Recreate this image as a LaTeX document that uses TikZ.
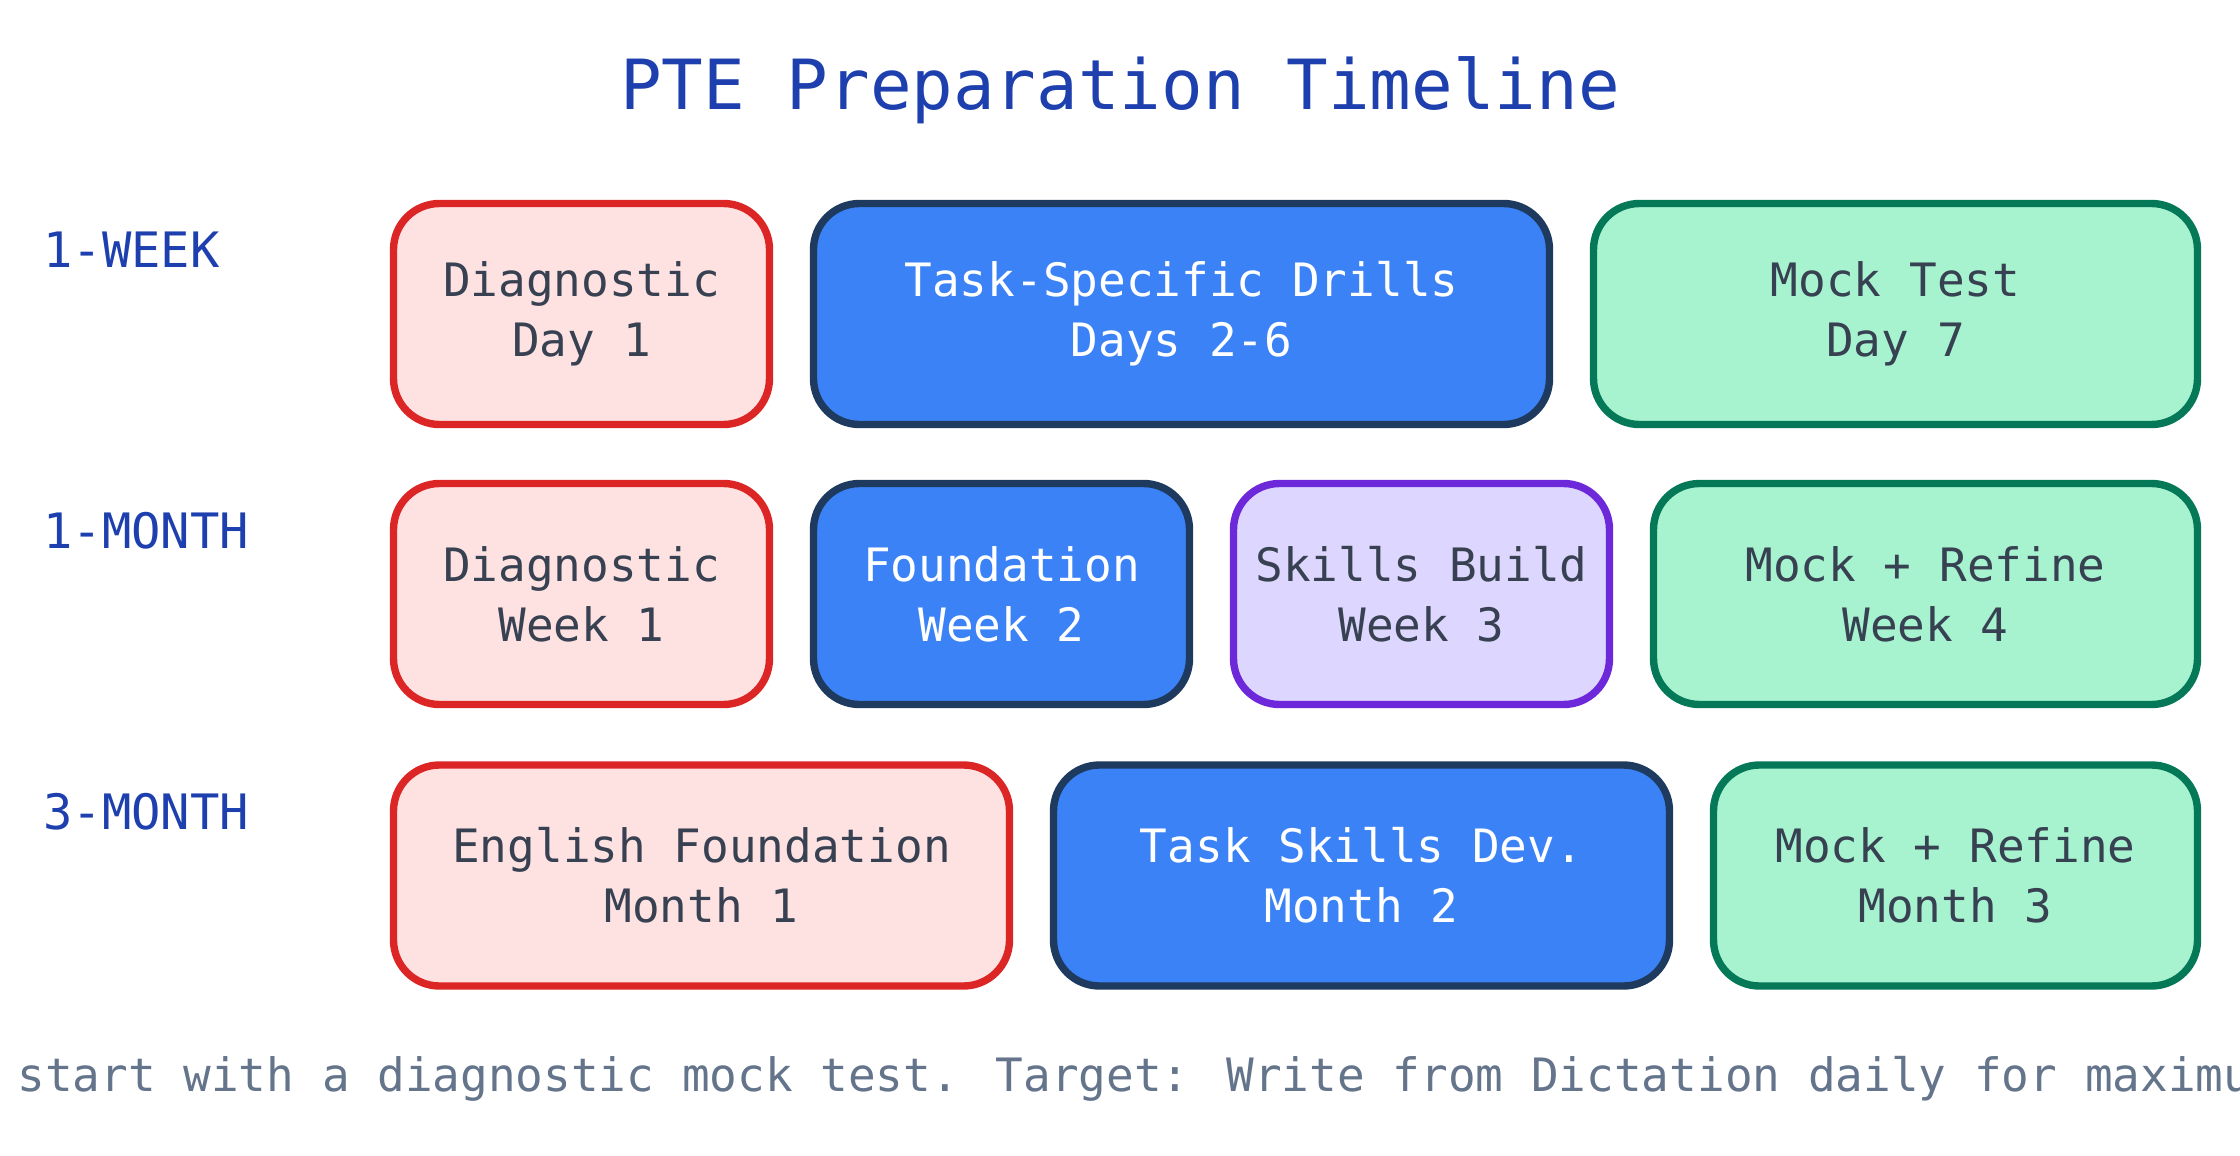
\documentclass[tikz,border=0pt]{standalone}
\usepackage{xcolor}
\usepackage{fontspec}
\setmainfont{DejaVu Sans Mono}
\usepackage{tikz}
\definecolor{titleblue}{HTML}{1E40AF}
\definecolor{inktext}{HTML}{374151}
\definecolor{notegray}{HTML}{64748B}
\definecolor{redline}{HTML}{DC2626}
\definecolor{redfill}{HTML}{FEE2E2}
\definecolor{blueline}{HTML}{1E3A5F}
\definecolor{bluefill}{HTML}{3B82F6}
\definecolor{purpleline}{HTML}{6D28D9}
\definecolor{purplefill}{HTML}{DDD6FE}
\definecolor{greenline}{HTML}{047857}
\definecolor{greenfill}{HTML}{A7F3D0}
\tikzstyle {phase box} = [rectangle, rounded corners=23pt, line width=3.7pt, minimum height=110.5pt, align=center, text=inktext, font=\fontsize{23}{30}\selectfont]
\tikzset{diag/.style = {phase box, draw=redline, fill=redfill},
    drill/.style = {phase box, draw=blueline, fill=bluefill, text=white},
    build/.style = {phase box, draw=purpleline, fill=purplefill},
    mock/.style = {phase box, draw=greenline, fill=greenfill},
    row label/.style = {anchor=base west, inner sep=0, text=titleblue, font=\fontsize{24.4}{28}\selectfont}}

\begin{document}
\begin{tikzpicture}[x=0.5pt, y=-0.5pt]
    \useasboundingbox (0,0) rectangle (2240,1156);
    \node[anchor=base, inner sep=0, text=titleblue, font=\fontsize{34.6}{40}\selectfont] (title) at (1120,110) {PTE Preparation Timeline};
    % 1-week plan
    \node[row label] (l1) at (43,267) {1-WEEK};
    \node[diag, minimum width=188pt] (w1) at (581.5,314) {Diagnostic\\Day 1};
    \node[drill, minimum width=368pt] (w2) at (1181.5,314) {Task-Specific Drills\\Days 2-6};
    \node[mock, minimum width=302pt] (w3) at (1895.5,314) {Mock Test\\Day 7};
    % 1-month plan
    \node[row label] (l2) at (43,548) {1-MONTH};
    \node[diag, minimum width=188pt] (m1) at (581.5,594) {Diagnostic\\Week 1};
    \node[drill, minimum width=188pt] (m2) at (1001.5,594) {Foundation\\Week 2};
    \node[build, minimum width=188pt] (m3) at (1421.5,594) {Skills Build\\Week 3};
    \node[mock, minimum width=272pt] (m4) at (1925.5,594) {Mock + Refine\\Week 4};
    % 3-month plan
    \node[row label] (l3) at (43,829) {3-MONTH};
    \node[diag, minimum width=308pt] (t1) at (701.5,875.5) {English Foundation\\Month 1};
    \node[drill, minimum width=308pt] (t2) at (1361.5,875.5) {Task Skills Dev.\\Month 2};
    \node[mock, minimum width=242pt] (t3) at (1955.5,875.5) {Mock + Refine\\Month 3};
    \node[anchor=base west, inner sep=0, text=notegray, font=\fontsize{23}{28}\selectfont] (note) at (17,1091) {start with a diagnostic mock test. Target: Write from Dictation daily for maximu};
\end{tikzpicture}
\end{document}
